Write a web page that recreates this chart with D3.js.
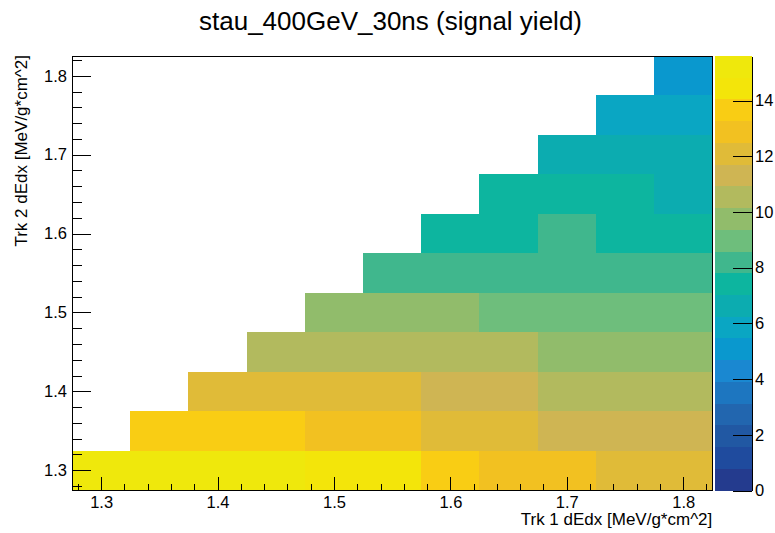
<!DOCTYPE html>
<html>
<head>
<meta charset="utf-8">
<script src="https://cdn.jsdelivr.net/npm/d3@7"></script>
<style>
  html, body { margin: 0; padding: 0; background: #ffffff; }
  svg { display: block; font-family: "Liberation Sans", Arial, Helvetica, sans-serif; }
</style>
</head>
<body>
<svg id="chart" width="775" height="533"></svg>
<script>
// ---- data -------------------------------------------------------------
const title  = "stau_400GeV_30ns (signal yield)";
const xTitle = "Trk 1 dEdx [MeV/g*cm^2]";
const yTitle = "Trk 2 dEdx [MeV/g*cm^2]";

// bin centres, shared by Trk 1 (columns) and Trk 2 (rows)
const binCenters = [1.30, 1.35, 1.40, 1.45, 1.50, 1.55, 1.60, 1.65, 1.70, 1.75, 1.80];
const binWidth = 0.05;

// signal yield per Trk 2 dEdx row, one entry per Trk 1 dEdx column (null = empty)
const row130 = [15.6, 15.5, 15.3, 15.0, 14.7, 14.3, 13.7, 13.0, 12.6, 12.2, 11.9];
const row135 = [null, 13.9, 13.8, 13.6, 13.1, 12.8, 12.3, 11.8, 11.5, 11.2, 11.0];
const row140 = [null, null, 12.4, 12.3, 12.1, 11.9, 11.5, 11.0, 10.8, 10.5, 10.3];
const row145 = [null, null, null, 10.85, 10.8, 10.7, 10.5, 10.2, 10.0, 9.8, 9.6];
const row150 = [null, null, null, null, 9.9, 9.8, 9.5, 9.2, 9.0, 8.8, 8.7];
const row155 = [null, null, null, null, null, 8.4, 8.3, 8.2, 8.1, 7.9, 7.9];
const row160 = [null, null, null, null, null, null, 7.6, 7.7, 7.9, 7.4, 7.3];
const row165 = [null, null, null, null, null, null, null, 7.5, 7.4, 7.2, 6.9];
const row170 = [null, null, null, null, null, null, null, null, 6.8, 6.6, 6.4];
const row175 = [null, null, null, null, null, null, null, null, null, 6.0, 5.8];
const row180 = [null, null, null, null, null, null, null, null, null, null, 5.2];
const rows = [row130, row135, row140, row145, row150, row155, row160, row165, row170, row175, row180];

const xTicks = [1.3, 1.4, 1.5, 1.6, 1.7, 1.8];
const yTicks = [1.3, 1.4, 1.5, 1.6, 1.7, 1.8];
const zTicks = [0, 2, 4, 6, 8, 10, 12, 14];

// ---- colour palette: 20 contour levels, blue (low) to yellow (high) ---
const levelColors = [
  "#243b8e", "#1f4b9e", "#2158a3", "#2266af", "#1d76c0",
  "#1a88d1", "#0a98ce", "#0aa6c3", "#0cacb0", "#0db59f",
  "#40b78d", "#6ebe7c", "#91bc6b", "#b2ba5e", "#cfb553",
  "#e0bb38", "#f2c121", "#f9cd14", "#f3e50a", "#efe80c"
];
const nLevels = levelColors.length;

// ---- layout -----------------------------------------------------------
const frame = { left: 72, right: 712.3, top: 56, bottom: 490 };
const pal = { left: 714.5, right: 752 };
const labelSize = 16.5, axisTitleSize = 17;

const svg = d3.select("#chart");
const lo = binCenters[0] - binWidth / 2;
const hi = binCenters[binCenters.length - 1] + binWidth / 2;

const x = d3.scaleLinear().domain([lo, hi]).range([frame.left, frame.right]);
const y = d3.scaleLinear().domain([lo, hi]).range([frame.bottom, frame.top]);

const cells = [];
rows.forEach((row, j) => row.forEach((v, i) => {
  if (v !== null) cells.push({ cx: binCenters[i], cy: binCenters[j], v });
}));
const zMax = d3.max(cells, d => d.v);
const z = d3.scaleLinear().domain([0, zMax]).range([frame.bottom + 0.5, frame.top]);
const color = d3.scaleQuantize().domain([0, zMax]).range(levelColors);

// ---- cells ------------------------------------------------------------
svg.append("g")
  .attr("shape-rendering", "crispEdges")
  .selectAll("rect")
  .data(cells)
  .join("rect")
  .attr("x", d => x(d.cx - binWidth / 2))
  .attr("y", d => y(d.cy + binWidth / 2))
  .attr("width", d => x(d.cx + binWidth / 2) - x(d.cx - binWidth / 2))
  .attr("height", d => y(d.cy - binWidth / 2) - y(d.cy + binWidth / 2))
  .attr("fill", d => color(d.v));

// ---- frame ------------------------------------------------------------
svg.append("rect")
  .attr("x", frame.left).attr("y", frame.top)
  .attr("width", frame.right - frame.left).attr("height", frame.bottom - frame.top)
  .attr("fill", "none").attr("stroke", "#000").attr("stroke-width", 1)
  .attr("shape-rendering", "crispEdges");

function styleAxis(g) {
  g.attr("font-family", null).attr("font-size", labelSize);
  g.selectAll("line").attr("stroke", "#000");
  g.selectAll("text").attr("fill", "#000");
  g.attr("shape-rendering", "crispEdges");
}

// x axis: major + minor ticks pointing into the frame
const xMinor = d3.range(1.28, hi, 0.02).map(v => +v.toFixed(2));
svg.append("g")
  .attr("transform", `translate(0,${frame.bottom})`)
  .call(d3.axisBottom(x).tickValues(xMinor).tickSize(-6.5).tickFormat(() => ""))
  .call(g => g.select(".domain").remove())
  .call(styleAxis);
svg.append("g")
  .attr("transform", `translate(0,${frame.bottom})`)
  .call(d3.axisBottom(x).tickValues(xTicks).tickSize(-13).tickPadding(6.3).tickFormat(d3.format(".1f")))
  .call(g => g.select(".domain").remove())
  .call(styleAxis);

// y axis
const yMinor = d3.range(1.28, hi, 0.02).map(v => +v.toFixed(2));
svg.append("g")
  .attr("transform", `translate(${frame.left},0)`)
  .call(d3.axisLeft(y).tickValues(yMinor).tickSize(-9.6).tickFormat(() => ""))
  .call(g => g.select(".domain").remove())
  .call(styleAxis);
svg.append("g")
  .attr("transform", `translate(${frame.left},0)`)
  .call(d3.axisLeft(y).tickValues(yTicks).tickSize(-19).tickPadding(5).tickFormat(d3.format(".1f")))
  .call(g => g.select(".domain").remove())
  .call(styleAxis);

// ---- colour bar -------------------------------------------------------
const step = zMax / nLevels;
svg.append("g")
  .attr("shape-rendering", "crispEdges")
  .selectAll("rect")
  .data(d3.range(nLevels))
  .join("rect")
  .attr("x", pal.left)
  .attr("y", k => z((k + 1) * step))
  .attr("width", pal.right - pal.left)
  .attr("height", k => z(k * step) - z((k + 1) * step))
  .attr("fill", k => levelColors[k]);

svg.append("g")
  .attr("transform", `translate(${pal.right},0)`)
  .call(d3.axisRight(z).tickValues(zTicks).tickSize(-19).tickSizeOuter(0).tickPadding(3))
  .call(g => g.select(".domain").attr("stroke", "#000"))
  .call(styleAxis);

// ---- titles -----------------------------------------------------------
svg.append("text")
  .attr("x", 390.5).attr("y", 30)
  .attr("text-anchor", "middle")
  .attr("font-size", 26)
  .attr("fill", "#000")
  .text(title);

svg.append("text")
  .attr("x", frame.right).attr("y", 525)
  .attr("text-anchor", "end")
  .attr("font-size", axisTitleSize)
  .attr("fill", "#000")
  .text(xTitle);

svg.append("text")
  .attr("transform", `translate(26.5,${frame.top - 1}) rotate(-90)`)
  .attr("text-anchor", "end")
  .attr("font-size", axisTitleSize)
  .attr("fill", "#000")
  .text(yTitle);
</script>
</body>
</html>
